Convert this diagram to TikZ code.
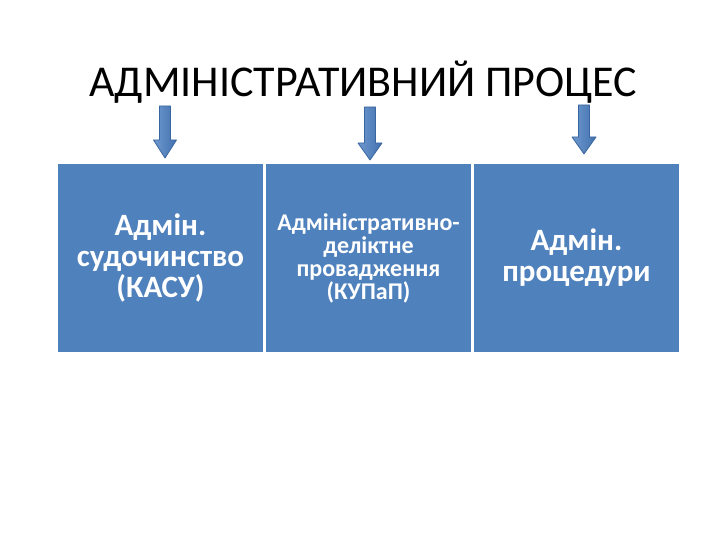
\documentclass[tikz,border=0pt]{standalone}
\usepackage{fontspec}
\setmainfont{Carlito}
\definecolor{cellblue}{HTML}{4F81BD}
\definecolor{arrowedge}{HTML}{3A66A0}
\definecolor{arrowfill}{HTML}{4A7EC2}
\tikzset{
  cell/.style={fill=cellblue, draw=white, line width=1.5pt, minimum width=207pt, minimum height=190pt, inner sep=0pt, text=white, align=center, font=\bfseries},
  blockarrow/.style={left color=arrowfill!80!white, right color=arrowfill!90!black, draw=arrowedge, line width=0.8pt, line join=round},
}
\begin{document}
\begin{tikzpicture}[x=1pt,y=-1pt]
\useasboundingbox (0,0) rectangle (720,540);
\node[font=\fontsize{44}{50}\selectfont, anchor=base] (title) at (363,97) {АДМІНІСТРАТИВНИЙ ПРОЦЕС};
\node[cell, font=\bfseries\fontsize{31}{31}\selectfont] (c1) at (160.5,258) {Адмін.\\судочинство\\(КАСУ)};
\node[cell, font=\bfseries\fontsize{24}{23}\selectfont] (c2) at (368.5,258) {Адміністративно-\\деліктне\\провадження\\(КУПаП)};
\node[cell, font=\bfseries\fontsize{31}{31}\selectfont] (c3) at (576.5,258) {Адмін.\\процедури};
\draw[blockarrow] (159.5,106) -- (170.5,106) -- (170.5,140) -- (176.5,140) -- (165,158) -- (153.5,140) -- (159.5,140) -- cycle;
\draw[blockarrow] (364.5,107) -- (375.5,107) -- (375.5,143) -- (382,143) -- (370,160) -- (358,143) -- (364.5,143) -- cycle;
\draw[blockarrow] (578.5,105) -- (589.5,105) -- (589.5,137) -- (596,137) -- (584,154) -- (572,137) -- (578.5,137) -- cycle;
\end{tikzpicture}
\end{document}
